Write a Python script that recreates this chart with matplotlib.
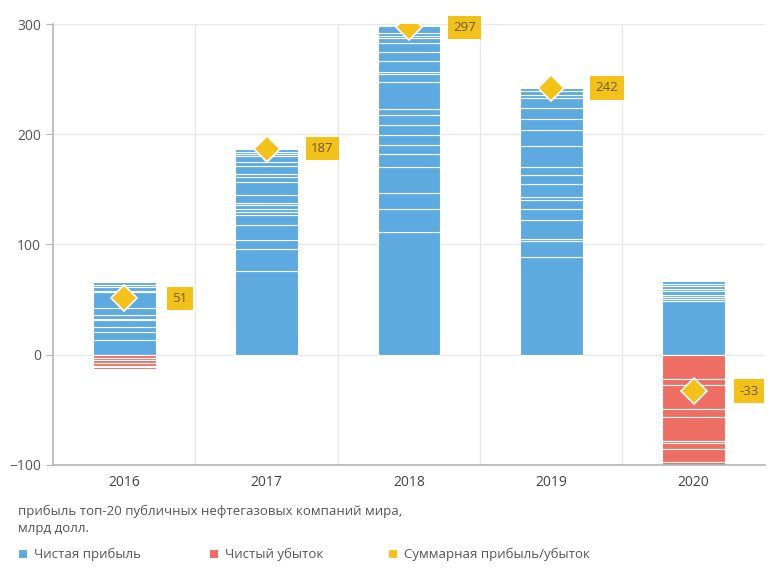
"""Profit of the top-20 public oil & gas companies, stacked by company."""

import numpy as np
from matplotlib import pyplot as plt
from matplotlib.patches import Rectangle

plt.rcParams["font.family"] = ["Open Sans", "DejaVu Sans"]

years = ["2016", "2017", "2018", "2019", "2020"]

# Per-company net profit (positive) and net loss (negative), bn USD, bottom to top.
profit_2016 = [13.0, 7.9, 4.3, 6.0, 1.5, 3.7, 6.0, 14.3, 0.9, 3.9, 2.1, 2.2]
loss_2016 = [-3.0, -2.2, -2.4, -2.4, -1.5, -1.5]
profit_2017 = [75.8, 19.7, 9.0, 12.8, 9.1, 3.0, 2.4, 4.3, 1.8, 6.6,
               12.2, 4.5, 2.7, 7.3, 3.6, 5.5, 1.8, 1.8, 3.1]
loss_2017 = []
profit_2018 = [111.2, 21.2, 14.6, 23.6, 11.2, 8.2, 9.1, 9.1, 9.1, 6.0,
               24.3, 6.9, 2.2, 10.0, 7.5, 8.2, 4.6, 1.8, 3.0, 6.1]
loss_2018 = []
profit_2019 = [88.5, 14.5, 2.2, 16.6, 10.6, 7.6, 3.0, 11.5, 8.2, 7.6,
               19.1, 14.5, 10.3, 10.0, 9.1, 2.2, 3.9, 3.0]
loss_2019 = []
profit_2020 = [48.5, 2.1, 1.5, 1.8, 4.3, 1.8, 2.1, 2.4, 2.2]
loss_2020 = [-22.1, -5.2, -22.1, -6.7, -21.8, -2.4, -5.2, -11.5, -2.7]

totals = [51, 187, 297, 242, -33]

profits = [profit_2016, profit_2017, profit_2018, profit_2019, profit_2020]
losses = [loss_2016, loss_2017, loss_2018, loss_2019, loss_2020]

BLUE = "#5DAAE0"
RED = "#EE6E63"
YELLOW = "#F2C218"
TEXT = "#555555"

fig = plt.figure(figsize=(7.84, 5.79), dpi=100)
ax = fig.add_axes([0.0676, 0.197, 0.908, 0.7615])

bar_width = 0.44
for i, (pos, neg) in enumerate(zip(profits, losses)):
    pos = np.array(pos)
    ax.bar([i] * len(pos), pos, bottom=np.concatenate([[0], np.cumsum(pos)[:-1]]),
           width=bar_width, color=BLUE, edgecolor="white", linewidth=0.8, zorder=2)
    if neg:
        neg = np.array(neg)
        ax.bar([i] * len(neg), neg, bottom=np.concatenate([[0], np.cumsum(neg)[:-1]]),
               width=bar_width, color=RED, edgecolor="white", linewidth=0.8, zorder=2)

# Net total marker and value label.
x = np.arange(len(years))
ax.plot(x, totals, linestyle="none", marker="D", markersize=13.5,
        markerfacecolor=YELLOW, markeredgecolor="white", markeredgewidth=1.2, zorder=4)
for xi, total in zip(x, totals):
    ax.annotate(str(total), (xi, total), xytext=(40, 0), textcoords="offset points",
                ha="center", va="center", fontsize=9.5, color="#6b5a24", zorder=5,
                bbox=dict(boxstyle="square,pad=0.4", facecolor=YELLOW, edgecolor="none"))

ax.set_xlim(-0.5, len(years) - 0.5)
ax.set_ylim(-100, 300)
ax.set_yticks([-100, 0, 100, 200, 300])
ax.set_xticks(x)
ax.set_xticklabels(years)
ax.set_xticks(x[:-1] + 0.5, minor=True)

ax.grid(axis="y", color="#e8e8e8", linewidth=1, zorder=0)
ax.grid(axis="x", which="minor", color="#e8e8e8", linewidth=1, zorder=0)
ax.set_axisbelow(True)

for side in ["top", "right"]:
    ax.spines[side].set_visible(False)
for side in ["left", "bottom"]:
    ax.spines[side].set_color("#b5b5b5")
    ax.spines[side].set_linewidth(1.2)

ax.tick_params(axis="y", colors="#b5b5b5", labelcolor=TEXT, labelsize=10, length=5)
ax.tick_params(axis="x", which="major", length=0, labelcolor="#444444", labelsize=10, pad=7)
ax.tick_params(axis="x", which="minor", length=0)

fig.text(0.023, 1 - 520 / 579, "прибыль топ-20 публичных нефтегазовых компаний мира,\nмлрд долл.",
         fontsize=9.5, color=TEXT, va="center", linespacing=1.45)

# Legend row.
legend_items = [("Чистая прибыль", BLUE, 19), ("Чистый убыток", RED, 210),
                ("Суммарная прибыль/убыток", YELLOW, 389)]
for label, color, px in legend_items:
    fig.add_artist(Rectangle((px / 784, 1 - 558 / 579), 8 / 784, 8 / 579,
                             transform=fig.transFigure, facecolor=color, edgecolor="none"))
    fig.text((px + 15) / 784, 1 - 554 / 579, label, fontsize=9.5, color=TEXT, va="center")

fig.savefig("out.png", dpi=100)
